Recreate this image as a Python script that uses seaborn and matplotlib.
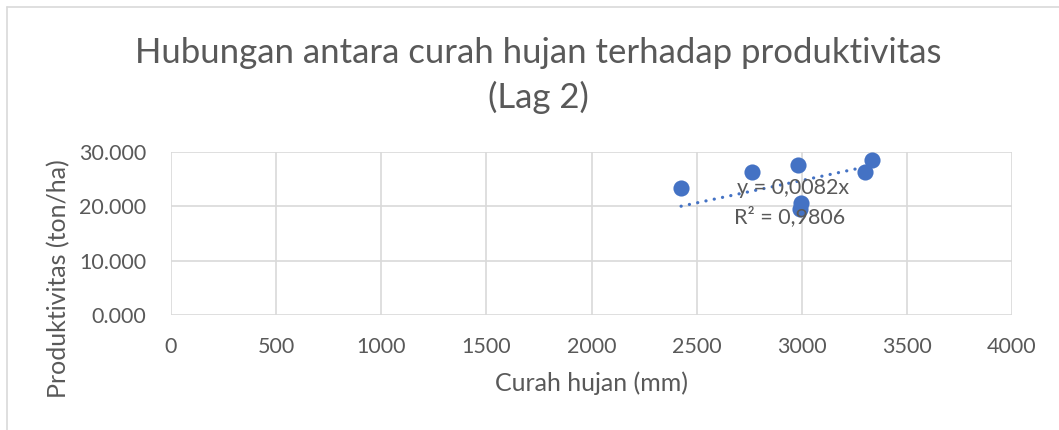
import numpy as np
import pandas as pd
import matplotlib
matplotlib.use("Agg")
import matplotlib.pyplot as plt
from matplotlib.lines import Line2D
import seaborn as sns

# Data
curah_hujan = [2426, 2762, 2981, 2996, 2992, 3301, 3333]
produktivitas = [23.4, 26.4, 27.6, 20.7, 19.5, 26.4, 28.5]
x_ticks = [0, 500, 1000, 1500, 2000, 2500, 3000, 3500, 4000]
y_ticks = [0, 10, 20, 30]
y_tick_labels = ["0.000", "10.000", "20.000", "30.000"]
title_lines = ["Hubungan antara curah hujan terhadap produktivitas", "(Lag 2)"]
eq_text = "y = 0,0082x"
r2_text = "R² = 0,9806"

df = pd.DataFrame({"x": curah_hujan, "y": produktivitas})

sns.set_theme(style="white")
plt.rcParams["font.family"] = ["Lato", "DejaVu Sans"]

W, H = 1059, 430
fig = plt.figure(figsize=(W / 100, H / 100), dpi=100)
ax = fig.add_axes([171 / W, 1 - 315 / H, (1012 - 171) / W, (315 - 152) / H])

txt = "#595959"
blue = "#4472C4"
grid = "#D9D9D9"

sns.scatterplot(data=df, x="x", y="y", ax=ax, s=135, color=blue,
                edgecolor=blue, linewidth=0, zorder=3)

# linear trendline through origin (Excel intercept = 0)
xs = np.array(curah_hujan, dtype=float)
ys = np.array(produktivitas, dtype=float)
slope = (xs * ys).sum() / (xs * xs).sum()
xl = np.array([xs.min(), xs.max()])
ax.plot(xl, slope * xl, color=blue, lw=2.3, linestyle=(0, (0.05, 2.6)),
        dash_capstyle="round", zorder=2)

ax.set_xlim(0, 4000)
ax.set_ylim(0, 30)
ax.set_xticks(x_ticks)
ax.set_xticklabels([str(v) for v in x_ticks])
ax.set_yticks(y_ticks)
ax.set_yticklabels(y_tick_labels)
ax.grid(True, color=grid, lw=1.2)
for s in ax.spines.values():
    s.set_visible(False)
ax.tick_params(axis="both", length=0, labelsize=15.5, colors=txt)
ax.tick_params(axis="x", pad=16)
ax.tick_params(axis="y", pad=18)
ax.set_xlabel("")
ax.set_ylabel("")

fig.text(591.5 / W, 1 - 383 / H, "Curah hujan (mm)", fontsize=18, color=txt,
         ha="center", va="center")
fig.text(59 / W, 1 - 279 / H, "Produktivitas (ton/ha)", fontsize=18,
         color=txt, ha="center", va="center", rotation=90)

ax.text(2690, (315 - 188) / 5.43, eq_text, fontsize=15.5, color=txt,
        va="center", ha="left", zorder=5)
ax.text(2680, (315 - 217) / 5.43, r2_text, fontsize=15.5, color=txt,
        va="center", ha="left", zorder=5)

fig.text(538 / W, 1 - 63 / H, title_lines[0], ha="center", va="baseline",
         fontsize=25, color=txt)
fig.text(538 / W, 1 - 108 / H, title_lines[1], ha="center", va="baseline",
         fontsize=25, color=txt)

fig.add_artist(Line2D([7 / W, 1], [1 - 7 / H, 1 - 7 / H], color=grid, lw=1.2,
                      transform=fig.transFigure))
fig.add_artist(Line2D([7 / W, 7 / W], [0, 1 - 7 / H], color=grid, lw=1.2,
                      transform=fig.transFigure))

fig.savefig("out.png", dpi=100)
